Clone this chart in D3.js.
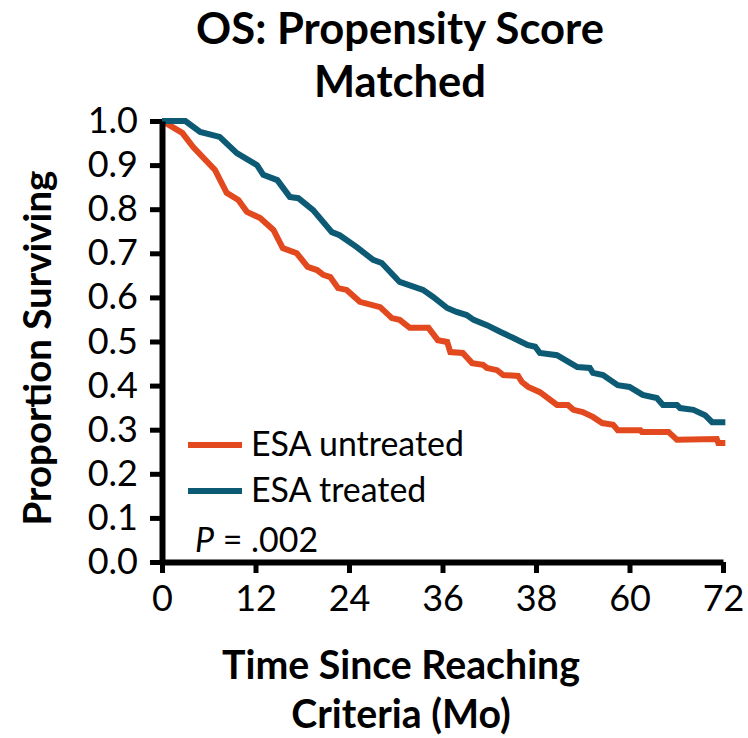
<!DOCTYPE html>
<html>
<head>
<meta charset="utf-8">
<script src="https://cdn.jsdelivr.net/npm/d3@7"></script>
<style>
  body { margin: 0; background: #fff; }
  svg { font-family: Lato, "Open Sans", sans-serif; }
</style>
</head>
<body>
<svg id="km" width="748" height="738"></svg>

<script>
    // ESA untreated
    var untreatedTime = [0, 0.5, 2.6, 4, 6.8, 8.3, 9.8, 10.9, 12.6, 14.3, 15.5, 17.3, 18.7, 19.9, 20.7, 21.6, 22.6, 23.7, 25.4, 28, 29.5, 30.5, 31.8, 34.2, 35.4, 36.6, 37, 38.6, 39.8, 41.2, 41.7, 43, 43.8, 45.7, 46.2, 47, 48.5, 50.7, 52.1, 52.8, 54, 55.3, 56.5, 57.9, 58.5, 61.4, 61.6, 65, 66.1, 71.2, 71.4, 72.3];
    var untreatedSurv = [1.0, 0.995, 0.973, 0.941, 0.889, 0.837, 0.821, 0.794, 0.78, 0.753, 0.712, 0.70, 0.669, 0.662, 0.651, 0.646, 0.621, 0.617, 0.59, 0.578, 0.553, 0.549, 0.531, 0.531, 0.503, 0.499, 0.476, 0.474, 0.451, 0.447, 0.44, 0.435, 0.424, 0.422, 0.408, 0.397, 0.385, 0.356, 0.356, 0.345, 0.34, 0.329, 0.315, 0.311, 0.299, 0.299, 0.295, 0.295, 0.277, 0.279, 0.27, 0.27];

    // ESA treated
    var treatedTime = [0, 3, 4.9, 7.4, 9.6, 12.2, 13, 14.8, 16.4, 17.5, 19.4, 21.8, 22.8, 25, 27.1, 28.2, 30.5, 33.5, 34.8, 36.6, 37.8, 39.1, 40, 41.7, 43.4, 45.1, 46.9, 47.9, 48.5, 50.7, 53.3, 54.9, 55.3, 56.6, 57.5, 58.5, 60, 61.7, 63.5, 64.3, 66.1, 66.5, 68.2, 69.7, 70.6, 72.3];
    var treatedSurv = [1.0, 1.0, 0.975, 0.964, 0.927, 0.90, 0.878, 0.866, 0.828, 0.825, 0.798, 0.748, 0.741, 0.714, 0.685, 0.678, 0.635, 0.617, 0.601, 0.576, 0.567, 0.56, 0.549, 0.537, 0.522, 0.508, 0.492, 0.488, 0.474, 0.469, 0.442, 0.44, 0.429, 0.424, 0.413, 0.401, 0.397, 0.379, 0.372, 0.356, 0.356, 0.349, 0.345, 0.333, 0.317, 0.317];

    // axis ticks; the original figure labels 48 as "38"
    var xTicks = [0, 12, 24, 36, 48, 60, 72];
    var xTickLabels = ['0', '12', '24', '36', '38', '60', '72'];
    var yTicks = [0, 0.1, 0.2, 0.3, 0.4, 0.5, 0.6, 0.7, 0.8, 0.9, 1.0];

    var seriesNames = ['ESA untreated', 'ESA treated'];
    var seriesColors = ['#e2491f', '#0c5a74'];

    var svg = d3.select("#km");

    var x = d3.scaleLinear().domain([0, 72]).range([162, 723]);
    var y = d3.scaleLinear().domain([0, 1]).range([562, 121]);

    function toPoints(times, surv) {
      return times.map(function(t, i) { return [t, surv[i]]; });
    }

    // scale a text's font so it spans about the same width as in the figure
    function fitWidth(sel, width) {
      var size = parseFloat(sel.style("font-size"));
      var w = sel.node().getComputedTextLength();
      var newSize = size * width / w;
      sel.style("font-size", newSize + "px");
      return newSize;
    }

    var series = [
      toPoints(untreatedTime, untreatedSurv),
      toPoints(treatedTime, treatedSurv)
    ];

    var line = d3.line()
      .x(function(d) { return x(d[0]); })
      .y(function(d) { return y(d[1]); });

    // curves
    svg.append("g")
      .selectAll("path")
      .data(series)
      .enter().append("path")
        .attr("d", line)
        .attr("fill", "none")
        .attr("stroke", function(d, i) { return seriesColors[i]; })
        .attr("stroke-width", 6)
        .attr("stroke-linejoin", "miter");

    // axes
    var yAxis = svg.append("g")
      .attr("transform", "translate(" + x(0) + ",0)")
      .call(d3.axisLeft(y)
        .tickValues(yTicks)
        .tickFormat(d3.format(".1f"))
        .tickSize(12)
        .tickSizeOuter(0)
        .tickPadding(12));

    var xAxis = svg.append("g")
      .attr("transform", "translate(0," + y(0) + ")")
      .call(d3.axisBottom(x)
        .tickValues(xTicks)
        .tickFormat(function(d, i) { return xTickLabels[i]; })
        .tickSize(11)
        .tickSizeOuter(0)
        .tickPadding(12));

    [xAxis, yAxis].forEach(function(ax) {
      ax.select(".domain").attr("stroke", "#000").attr("stroke-width", 6);
      ax.selectAll(".tick line").attr("stroke", "#000").attr("stroke-width", 5);
      ax.selectAll(".tick text")
        .attr("fill", "#000")
        .style("font-family", "Lato")
        .style("font-size", "36px");
    });

    // title
    var t1 = svg.append("text")
      .attr("x", 400).attr("y", 44)
      .attr("text-anchor", "middle")
      .style("font-weight", "bold")
      .style("font-size", "38px")
      .text("OS: Propensity Score");
    var titleSize = fitWidth(t1, 408);
    svg.append("text")
      .attr("x", 400).attr("y", 97)
      .attr("text-anchor", "middle")
      .style("font-weight", "bold")
      .style("font-size", titleSize + "px")
      .text("Matched");

    // x axis title
    var xt1 = svg.append("text")
      .attr("x", 401).attr("y", 679)
      .attr("text-anchor", "middle")
      .style("font-weight", "bold")
      .style("font-size", "33px")
      .text("Time Since Reaching");
    var xTitleSize = fitWidth(xt1, 358);
    svg.append("text")
      .attr("x", 401).attr("y", 728)
      .attr("text-anchor", "middle")
      .style("font-weight", "bold")
      .style("font-size", xTitleSize + "px")
      .text("Criteria (Mo)");

    // y axis title
    var yt = svg.append("text")
      .attr("transform", "translate(51,348) rotate(-90)")
      .attr("text-anchor", "middle")
      .style("font-weight", "bold")
      .style("font-size", "34px")
      .text("Proportion Surviving");
    fitWidth(yt, 355);

    // legend
    var legend = svg.append("g")
      .selectAll("g")
      .data(seriesNames)
      .enter().append("g")
        .attr("transform", function(d, i) { return "translate(188," + (445 + i * 46) + ")"; });

    legend.append("line")
      .attr("x1", 0).attr("x2", 54)
      .attr("stroke", function(d, i) { return seriesColors[i]; })
      .attr("stroke-width", 6);

    var legendText = legend.append("text")
      .attr("x", 63)
      .attr("y", 11)
      .style("font-size", "29px")
      .text(function(d) { return d; });
    var legendSize = fitWidth(d3.select(legendText.nodes()[0]), 213);
    legendText.style("font-size", legendSize + "px");

    var pText = svg.append("text")
      .attr("x", 195)
      .attr("y", 552)
      .style("font-size", legendSize + "px");
    pText.append("tspan").style("font-style", "italic").text("P");
    pText.append("tspan").text(" = .002");
</script>
</body>
</html>
